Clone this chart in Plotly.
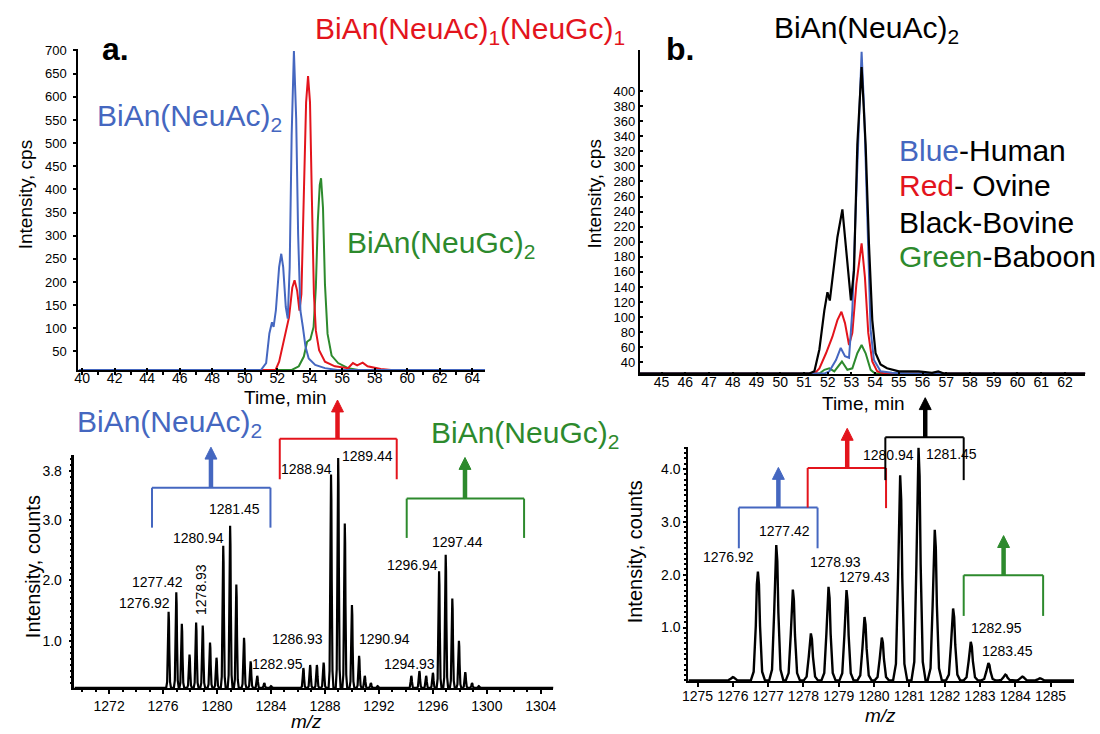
import plotly.graph_objects as go

W, H = 1100, 734
FONT = "Liberation Sans"
BLUE = "#4567c0"
RED = "#e3141c"
GREEN = "#2d8a2d"
BLACK = "#000000"

# ---------------- data: chromatogram (a) ----------------
a_blue_t = [39.8, 51.0, 51.32, 51.52, 51.68, 51.78, 51.92, 52.12, 52.25, 52.37, 52.53, 52.65, 52.77, 52.89,
            53.03, 53.17, 53.29, 53.43, 53.58, 53.74, 53.94, 54.34, 54.94, 55.7, 64.8]
a_blue_v = [10, 10, 25, 89, 113, 103, 139, 232, 261, 232, 146, 121, 232, 516,
            699, 552, 302, 138, 103, 61, 35, 21, 14, 10, 10]
a_red_t = [39.8, 51.9, 52.12, 52.43, 52.73, 52.93, 53.07, 53.23, 53.37, 53.49, 53.64, 53.78, 53.90, 54.02,
           54.14, 54.26, 54.38, 54.58, 54.94, 55.55, 56.36, 56.66, 56.92, 57.26, 57.56, 58.37, 59.0, 64.8]
a_red_v = [10, 10, 28, 75, 124, 188, 204, 181, 138, 174, 374, 588, 645, 588,
           374, 174, 95, 53, 28, 18, 14, 25, 20, 26, 18, 12, 10, 10]
a_green_t = [39.8, 52.9, 53.33, 53.64, 53.84, 54.04, 54.24, 54.38, 54.50, 54.62, 54.70, 54.82, 54.94,
             55.10, 55.35, 55.75, 56.36, 57.0, 64.8]
a_green_v = [10, 10, 18, 39, 71, 76, 103, 188, 331, 410, 424, 360, 195,
             88, 41, 25, 14, 10, 10]

# ---------------- data: chromatogram (b) ----------------
b_black_t = [44.0, 51.23, 51.44, 51.65, 51.86, 51.99, 52.09, 52.20, 52.41, 52.62, 52.79, 52.98, 53.11, 53.25,
             53.43, 53.60, 53.74, 53.88, 54.02, 54.23, 54.50, 55.0, 55.83, 56.4, 56.66, 56.9, 62.9]
b_black_v = [25, 25, 28, 57, 109, 133, 122, 153, 206, 243, 188, 122, 162, 329,
             432, 329, 197, 96, 52, 37, 32, 28, 28, 26, 28, 25, 25]
b_blue_t = [44.0, 51.86, 52.07, 52.35, 52.55, 52.73, 52.90, 53.04, 53.18, 53.32, 53.43, 53.54, 53.67,
            53.81, 53.95, 54.23, 54.71, 55.5, 62.9]
b_blue_v = [25, 25, 28, 43, 59, 48, 46, 109, 241, 373, 452, 373, 215,
            83, 43, 28, 26, 25, 25]
b_red_t = [44.0, 51.44, 51.65, 51.93, 52.20, 52.41, 52.58, 52.73, 52.90, 53.04, 53.21, 53.43, 53.57,
           53.71, 53.88, 54.09, 54.4, 62.9]
b_red_v = [25, 25, 32, 52, 74, 96, 107, 92, 63, 79, 144, 198, 153,
           79, 41, 28, 25, 25]
b_green_t = [44.0, 51.65, 51.86, 52.07, 52.28, 52.60, 52.83, 53.04, 53.25, 53.43, 53.60, 53.81, 54.0, 62.9]
b_green_v = [25, 25, 30, 32, 28, 41, 30, 32, 52, 63, 52, 30, 25, 25]

# ---------------- data: mass spectrum (a), peak apices ----------------
sa_mz = [1276.41, 1276.98, 1277.39, 1277.96, 1278.45, 1278.94, 1279.48, 1279.96, 1280.46, 1280.97,
         1281.43, 1282.0, 1282.49, 1282.98, 1283.5, 1284.0,
         1286.4, 1286.9, 1287.4, 1287.9, 1288.45, 1288.98, 1289.47, 1290.0, 1290.53, 1290.95, 1291.4, 1291.9,
         1294.4, 1295.0, 1295.5, 1296.0, 1296.46, 1296.95, 1297.44, 1297.93, 1298.4, 1298.9, 1299.4]
sa_int = [1.48, 1.80, 1.28, 0.77, 1.30, 1.25, 0.97, 0.72, 2.57, 2.90,
          1.93, 1.05, 0.66, 0.42, 0.30, 0.25,
          0.55, 0.60, 0.60, 0.64, 3.75, 4.02, 2.94, 1.59, 0.75, 0.42, 0.30, 0.25,
          0.42, 0.50, 0.42, 0.47, 2.15, 2.42, 1.70, 1.00, 0.48, 0.30, 0.25]
sa_base = 0.22
sa_lo, sa_hi = 1269.43, 1304.94

# ---------------- data: mass spectrum (b), peak apices ----------------
sb_mz = [1276.0, 1276.71, 1277.23, 1277.70, 1278.21, 1278.71, 1279.22, 1279.73, 1280.22, 1280.74, 1281.26,
         1281.72, 1282.24, 1282.74, 1283.24, 1283.72, 1284.2, 1284.7]
sb_int = [0.06, 2.06, 2.56, 1.72, 0.89, 1.77, 1.71, 1.20, 0.81, 3.88, 4.40,
          2.85, 1.36, 0.73, 0.33, 0.11, 0.07, 0.04]
sb_base = 0.0
sb_lo, sb_hi = 1274.74, 1285.67

# peak-label texts with anchor (m/z, intensity)
sa_labels = [("1281.45", 1281.26, 3.18), ("1280.94", 1278.62, 2.70), ("1277.42", 1275.58, 1.97),
             ("1276.92", 1274.65, 1.63), ("1282.95", 1284.45, 0.62), ("1286.93", 1285.97, 1.03),
             ("1288.94", 1286.65, 3.84), ("1289.44", 1291.19, 4.06), ("1290.94", 1292.42, 1.03),
             ("1294.93", 1294.26, 0.61), ("1296.94", 1294.5, 2.26), ("1297.44", 1297.81, 2.63)]
sa_vlabel = ("1278.93", 1278.82, 1.84)
sb_labels = [("1276.92", 1275.87, 2.33), ("1277.42", 1277.46, 2.83), ("1278.93", 1278.92, 2.24),
             ("1279.43", 1279.73, 1.96), ("1280.94", 1280.41, 4.26), ("1281.45", 1282.19, 4.28),
             ("1282.95", 1283.46, 1.00), ("1283.45", 1283.78, 0.55)]

# brackets: (colour, left m/z, right m/z, top, bottom, arrow m/z, arrow tip)
sa_brackets = [(BLUE, 1275.18, 1283.96, 3.53, 2.87, 1279.55, 4.20),
               (RED, 1284.65, 1293.32, 4.34, 3.67, 1288.93, 4.98),
               (GREEN, 1294.06, 1302.76, 3.35, 2.70, 1298.38, 4.03)]
sb_brackets = [(BLUE, 1276.17, 1278.40, 3.27, 2.50, 1277.29, 4.03),
               (RED, 1278.12, 1280.34, 4.02, 3.26, 1279.24, 4.77),
               (BLACK, 1280.32, 1282.54, 4.60, 3.79, 1281.45, 5.35),
               (GREEN, 1282.54, 1284.79, 1.99, 1.22, 1283.67, 2.74)]
sb_red_left_bottom = 3.27

# ---------------- layout geometry (pixels) ----------------
def fx(px):
    return px / W

def fy(py):
    return 1 - py / H

dom = {
    "a_chrom": ((73, 483), (43, 367)),
    "b_chrom": ((639, 1088), (44, 371)),
    "a_ms": ((69, 552), (453, 688)),
    "b_ms": ((688, 1077), (445, 681)),
}
rng = {
    "a_chrom": ((39.77, 64.79), (10, 704)),
    "b_chrom": ((44.08, 62.85), (24.5, 455)),
    "a_ms": ((sa_lo, sa_hi), (0.213, 4.066)),
    "b_ms": ((sb_lo, sb_hi), (-0.02, 4.41)),
}

def to_paper(key, xv, yv):
    (px0, px1), (py0, py1) = dom[key]
    (x0, x1), (y0, y1) = rng[key]
    px = px0 + (xv - x0) / (x1 - x0) * (px1 - px0)
    py = py1 - (yv - y0) / (y1 - y0) * (py1 - py0)
    return px, py

# peak profile (style): offsets in m/z and relative height
prof_dx = [-0.2, -0.12, -0.06, -0.03, 0.0, 0.03, 0.06, 0.12, 0.2]
prof_f = [0.0, 0.08, 0.5, 0.88, 1.0, 0.88, 0.5, 0.08, 0.0]

def spectrum(mz, inten, base, lo, hi, scale=1.0):
    xs, ys = [lo], [base]
    for m, h in zip(mz, inten):
        for dx, f in zip(prof_dx, prof_f):
            xs.append(m + dx * scale)
            ys.append(base + (h - base) * f)
    xs.append(hi)
    ys.append(base)
    return xs, ys

fig = go.Figure()

def line(x, y, color, xa, ya, width=2):
    fig.add_trace(go.Scatter(x=x, y=y, mode="lines", line=dict(color=color, width=width),
                             xaxis=xa, yaxis=ya, showlegend=False, hoverinfo="skip"))

line(a_green_t, a_green_v, GREEN, "x", "y")
line(a_red_t, a_red_v, RED, "x", "y")
line(a_blue_t, a_blue_v, BLUE, "x", "y")

line(b_green_t, b_green_v, GREEN, "x2", "y2")
line(b_red_t, b_red_v, RED, "x2", "y2")
line(b_blue_t, b_blue_v, BLUE, "x2", "y2")
line(b_black_t, b_black_v, BLACK, "x2", "y2", 2.2)

xs, ys = spectrum(sa_mz, sa_int, sa_base, sa_lo, sa_hi, 0.9)
line(xs, ys, BLACK, "x3", "y3", 2.2)
xs, ys = spectrum(sb_mz, sb_int, sb_base, sb_lo, sb_hi, 1.0)
line(xs, ys, BLACK, "x4", "y4", 2.4)

common = dict(showline=True, linecolor="black", linewidth=2, showgrid=False, zeroline=False,
              ticks="outside", ticklen=3, tickcolor="black", tickwidth=1.5,
              tickfont=dict(family=FONT, size=13, color="black"), fixedrange=True)

def xdom(key):
    (px0, px1), _ = dom[key]
    return [fx(px0), fx(px1)]

def ydom(key):
    _, (py0, py1) = dom[key]
    return [fy(py1), fy(py0)]

fig.update_layout(
    width=W, height=H, margin=dict(l=0, r=0, t=0, b=0),
    paper_bgcolor="white", plot_bgcolor="white",
    xaxis=dict(common, domain=xdom("a_chrom"), range=list(rng["a_chrom"][0]), anchor="y",
               tick0=40, dtick=2, ticks="inside", ticklen=2, ticklabelstandoff=-6,
               tickfont=dict(family=FONT, size=14, color="black"),
               minor=dict(dtick=1, ticks="outside", ticklen=3, tickcolor="black", tickwidth=2)),
    yaxis=dict(common, domain=ydom("a_chrom"), range=list(rng["a_chrom"][1]), anchor="x",
               tick0=0, dtick=50, ticklabelstandoff=4),
    xaxis2=dict(common, domain=xdom("b_chrom"), range=list(rng["b_chrom"][0]), anchor="y2",
                tick0=45, dtick=1, ticks="inside", ticklen=2, ticklabelstandoff=-6,
                tickfont=dict(family=FONT, size=14, color="black")),
    yaxis2=dict(common, domain=ydom("b_chrom"), range=list(rng["b_chrom"][1]), anchor="x2",
                tickvals=list(range(40, 401, 20)), ticks="inside", ticklen=3),
    xaxis3=dict(common, domain=xdom("a_ms"), range=list(rng["a_ms"][0]), anchor="y3",
                tick0=1272, dtick=4, ticklen=4, tickfont=dict(family=FONT, size=14, color="black"),
                minor=dict(dtick=1, ticks="outside", ticklen=2, tickcolor="black")),
    yaxis3=dict(common, domain=ydom("a_ms"), range=list(rng["a_ms"][1]), anchor="x3",
                tickvals=[1.0, 2.0, 3.0, 3.8], ticktext=["1.0", "2.0", "3.0", "3.8"],
                tickfont=dict(family=FONT, size=14, color="black"), linewidth=2.5, ticklabelstandoff=4,
                minor=dict(dtick=0.1, ticks="outside", ticklen=2, tickcolor="black")),
    xaxis4=dict(common, domain=xdom("b_ms"), range=list(rng["b_ms"][0]), anchor="y4",
                tick0=1275, dtick=1, ticklen=4, ticklabelstandoff=-3,
                tickfont=dict(family=FONT, size=14, color="black")),
    yaxis4=dict(common, domain=ydom("b_ms"), range=list(rng["b_ms"][1]), anchor="x4",
                tickvals=[1.0, 2.0, 3.0, 4.0], ticktext=["1.0", "2.0", "3.0", "4.0"],
                tickfont=dict(family=FONT, size=14, color="black"),
                minor=dict(dtick=0.1, ticks="outside", ticklen=2, tickcolor="black")),
)

ann = []

def text(px, py, t, size=30, color=BLACK, xanchor="left", yanchor="middle", bold=False, angle=0, italic=False):
    if bold:
        t = "<b>" + t + "</b>"
    if italic:
        t = "<i>" + t + "</i>"
    ann.append(dict(x=fx(px), y=fy(py), xref="paper", yref="paper", text=t, showarrow=False,
                    xanchor=xanchor, yanchor=yanchor, textangle=angle,
                    font=dict(family=FONT, size=size, color=color)))

# panel letters
text(110, 43, "a.", 32, bold=True, xanchor="center")
text(680, 43, "b.", 32, bold=True, xanchor="center")

# species labels
text(310, 25, "BiAn(NeuAc)<sub>1</sub>(NeuGc)<sub>1</sub>", 30, RED)
text(90, 112, "BiAn(NeuAc)<sub>2</sub>", 30, BLUE)
text(342, 240, "BiAn(NeuGc)<sub>2</sub>", 30, GREEN)
text(772, 24, "BiAn(NeuAc)<sub>2</sub>", 30, BLACK)
text(70, 421, "BiAn(NeuAc)<sub>2</sub>", 30, BLUE)
text(426, 432, "BiAn(NeuGc)<sub>2</sub>", 30, GREEN)

# colour key
key_rows = [("Blue", BLUE, "-Human", 146), ("Red", RED, "- Ovine", 181),
            ("Black", BLACK, "-Bovine", 218), ("Green", GREEN, "-Baboon", 253)]
for word, col, rest, py in key_rows:
    text(898, py, '<span style="color:%s">%s</span>%s' % (col, word, rest), 30, BLACK)

# axis titles
text(20, 190, "Intensity, cps", 19, angle=-90, xanchor="center")
text(593, 190, "Intensity, cps", 19, angle=-90, xanchor="center")
text(282, 395, "Time, min", 19, xanchor="center")
text(865, 401, "Time, min", 19, xanchor="center")
text(28, 565, "Intensity, counts", 20, angle=-90, xanchor="center")
text(634, 550, "Intensity, counts", 20, angle=-90, xanchor="center")
text(303, 721, "m/z", 19, xanchor="center", italic=True)
text(882, 715, "m/z", 19, xanchor="center", italic=True)

# peak labels
for t, m, v in sa_labels:
    ann.append(dict(x=m, y=v, xref="x3", yref="y3", text=t, showarrow=False,
                    font=dict(family=FONT, size=14, color="black")))
t, m, v = sa_vlabel
ann.append(dict(x=m, y=v, xref="x3", yref="y3", text=t, showarrow=False, textangle=-90,
                font=dict(family=FONT, size=14, color="black")))
for t, m, v in sb_labels:
    ann.append(dict(x=m, y=v, xref="x4", yref="y4", text=t, showarrow=False,
                    font=dict(family=FONT, size=14, color="black")))

fig.update_layout(annotations=ann)

# brackets and arrows
shapes = []

def seg(p0, p1, color, width=2):
    shapes.append(dict(type="line", xref="paper", yref="paper",
                       x0=fx(p0[0]), y0=fy(p0[1]), x1=fx(p1[0]), y1=fy(p1[1]),
                       line=dict(color=color, width=width)))

def arrow(px, pbase, ptip, color):
    head = 12
    seg((px, pbase), (px, ptip + head - 1), color, 4.5)
    path = "M %f %f L %f %f L %f %f Z" % (fx(px - 6), fy(ptip + head), fx(px), fy(ptip), fx(px + 6), fy(ptip + head))
    shapes.append(dict(type="path", xref="paper", yref="paper", path=path,
                       fillcolor=color, line=dict(color=color, width=1)))

def bracket(key, spec, left_bottom=None):
    col, ml, mr, top, bot, ma, tip = spec
    lx, ty = to_paper(key, ml, top)
    rx, by = to_paper(key, mr, bot)
    _, lby = to_paper(key, ml, left_bottom if left_bottom is not None else bot)
    ax, tipy = to_paper(key, ma, tip)
    seg((lx, ty), (rx, ty), col)
    seg((lx, ty), (lx, lby), col)
    seg((rx, ty), (rx, by), col)
    arrow(ax, ty, tipy, col)

for spec in sa_brackets:
    bracket("a_ms", spec)
for spec in sb_brackets:
    if spec[0] == RED:
        bracket("b_ms", spec, left_bottom=sb_red_left_bottom)
    else:
        bracket("b_ms", spec)

fig.update_layout(shapes=shapes)

fig.write_html("out.html", config={"displayModeBar": False},
               post_script="document.body.style.margin='0px';")
